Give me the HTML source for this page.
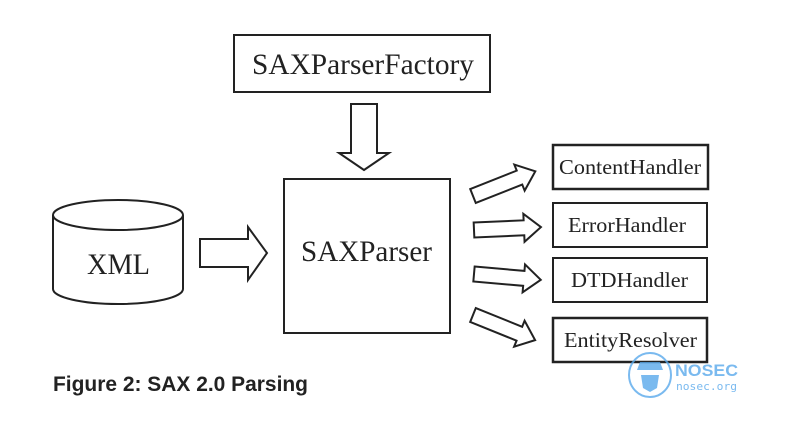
<!DOCTYPE html>
<html><head><meta charset="utf-8"><style>
html,body{margin:0;padding:0;background:#fff;}
svg{display:block}
</style></head><body>
<svg width="790" height="421" viewBox="0 0 790 421" xmlns="http://www.w3.org/2000/svg">
<defs>
<polygon id="ar" points="0,-7.5 50,-7.5 50,-14 67,0 50,14 50,7.5 0,7.5" fill="#fff" stroke="#222" stroke-width="2" stroke-linejoin="miter"/>
</defs>
<g fill="#fff" stroke="#222" stroke-width="2">
<rect x="234" y="35" width="256" height="57"/>
<rect x="284" y="179" width="166" height="154"/>
<rect x="553" y="145" width="155" height="44" stroke-width="2.5"/>
<rect x="553" y="203" width="154" height="44"/>
<rect x="553" y="258" width="154" height="44"/>
<rect x="553" y="318" width="154" height="44" stroke-width="2.5"/>
<path d="M53,215 L53,289 A65,15 0 0 0 183,289 L183,215"/>
<ellipse cx="118" cy="215" rx="65" ry="15"/>
<polygon points="351,104 377,104 377,153 389,153 364,170 339,153 351,153"/>
<polygon points="200,239 248,239 248,227 267,253 248,280 248,267 200,267"/>
</g>
<use href="#ar" transform="translate(473,196) rotate(-21.6)"/>
<use href="#ar" transform="translate(474,230) rotate(-2.5)"/>
<use href="#ar" transform="translate(474,274) rotate(5)"/>
<use href="#ar" transform="translate(473,315) rotate(22)"/>
<g font-family="Liberation Serif, serif" fill="#222" text-anchor="start">
<text x="252" y="74" font-size="30" textLength="222" lengthAdjust="spacingAndGlyphs">SAXParserFactory</text>
<text x="301" y="261" font-size="30" textLength="131" lengthAdjust="spacingAndGlyphs">SAXParser</text>
<text x="87" y="274" font-size="30" textLength="63" lengthAdjust="spacingAndGlyphs">XML</text>
<text x="559" y="174" font-size="21" textLength="142" lengthAdjust="spacingAndGlyphs">ContentHandler</text>
<text x="568" y="232" font-size="21" textLength="118" lengthAdjust="spacingAndGlyphs">ErrorHandler</text>
<text x="571" y="287" font-size="21" textLength="117" lengthAdjust="spacingAndGlyphs">DTDHandler</text>
<text x="564" y="347" font-size="21" textLength="133" lengthAdjust="spacingAndGlyphs">EntityResolver</text>
</g>
<text x="53" y="391" font-family="Liberation Sans, sans-serif" font-weight="bold" font-size="21" fill="#222" textLength="255" lengthAdjust="spacingAndGlyphs">Figure 2: SAX 2.0 Parsing</text>
<g opacity="0.8">
<ellipse cx="650" cy="375" rx="21" ry="22" fill="none" stroke="#5aa9ec" stroke-width="2"/>
<path d="M637,370 L663,370 L660,362 L640,362 Z M641,375 L659,375 L657,388 L650,392 L643,388 Z" fill="#5aa9ec"/>
<text x="675" y="376" font-family="Liberation Sans, sans-serif" font-weight="bold" font-size="17" fill="#5aa9ec" textLength="63" lengthAdjust="spacingAndGlyphs">NOSEC</text>
<text x="676" y="390" font-family="DejaVu Sans Mono, monospace" font-size="11" fill="#5aa9ec" textLength="61" lengthAdjust="spacingAndGlyphs">nosec.org</text>
</g>
</svg>
</body></html>
